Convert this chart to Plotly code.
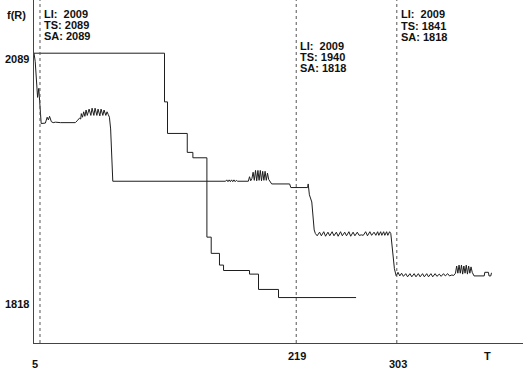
import plotly.graph_objects as go

# --- data -------------------------------------------------------------
# TS trajectory (time step T, objective f(R))
ts_t = [0, 1, 3, 4, 6, 7, 9.5, 11, 12, 13, 14.5, 16, 18, 22, 26, 30, 34.5,
        36, 38, 39, 39.5, 40.5, 41.5, 42.5, 43.5, 44.5, 46, 47.5, 48.5, 50,
        51, 52.5, 53.5, 55, 56, 57.5, 58.5, 60, 61, 62, 63, 64, 65, 65.8,
        160, 161, 162, 163, 164, 165, 166, 167, 168, 169, 170, 172, 179,
        180, 181, 182, 183, 184, 185, 186, 187, 188, 189, 190, 191, 192, 193,
        194, 195, 196, 197, 198.5, 213.5, 214.5, 228.5, 229, 230, 232, 234,
        235, 236.5, 238.5, 240, 242, 243.5, 245.5, 247, 249, 250.5, 252.5,
        254, 256, 257.5, 259.5, 261, 263, 264.5, 266.5, 268, 270, 271.5,
        273.5, 275, 277, 278.5, 280.5, 282, 284, 285.5, 287, 288, 289.5,
        290.5, 292, 293, 294.5, 295.5, 297, 298, 299.5, 301, 302.5,
        304, 305.5, 307, 308.5, 310.5, 312, 314, 315.5, 317.5, 319, 321,
        322.5, 324.5, 326, 328, 329.5, 331.5, 333, 335, 336.5, 338.5, 340,
        342, 343.5, 345.5, 347, 349, 350.5, 352,
        353, 354, 355, 356, 357, 358, 359, 360, 361, 362, 363, 364, 365,
        366, 367.5, 376, 376.5, 379.5, 380, 381.5, 382, 382.5]
ts_v = [2089, 2080, 2040, 2050, 2011, 2011, 2011.5, 2018, 2015, 2019, 2013,
        2012, 2012.5, 2012, 2012, 2012.5, 2012,
        2014, 2017, 2016, 2022, 2018, 2024, 2019, 2026, 2020, 2027, 2020,
        2028, 2020, 2028, 2020, 2027, 2019.5, 2027, 2020, 2026, 2020, 2024,
        2021, 2018, 2005, 1965, 1947,
        1947, 1948.5, 1946.5, 1948.5, 1946.5, 1948.5, 1946.5, 1948.5,
        1946.5, 1948, 1947, 1947, 1947,
        1952, 1947.5, 1950, 1957, 1948, 1959, 1947.5, 1959, 1948, 1959,
        1947.5, 1958, 1948, 1958, 1948, 1956, 1949, 1947, 1944, 1944, 1940,
        1940, 1944, 1932, 1924, 1893,
        1889, 1886.5, 1890.5, 1886.5, 1891, 1886, 1890.5, 1886.5, 1891,
        1886.5, 1890.5, 1886, 1891, 1886.5, 1890.5, 1886.5, 1891, 1886,
        1890.5, 1886.5, 1890.5, 1887, 1887.5, 1887, 1891, 1886.5, 1891,
        1887, 1890.5, 1887, 1891, 1887, 1891, 1887, 1891, 1887, 1891, 1887,
        1891, 1889, 1872, 1850, 1842,
        1846, 1842, 1845, 1841.5, 1844.5, 1841, 1844.5, 1841, 1844.5, 1841,
        1844.5, 1841, 1844.5, 1841, 1844.5, 1841, 1844.5, 1841, 1844.5,
        1841.5, 1844, 1841.5, 1844.5, 1842, 1844.5, 1842, 1843, 1842.5,
        1845,
        1853, 1845, 1854, 1845, 1854, 1844, 1853, 1845, 1854, 1844, 1853,
        1845, 1852, 1846, 1842, 1842, 1846, 1846, 1842, 1842, 1845, 1845]

# SA trajectory (piecewise constant)
sa_t = [0, 109, 111.5, 128, 132.7, 144.4, 148, 154.9, 158.3, 180, 187.5,
        204.2, 269]
sa_v = [2089, 2035, 2000, 1979, 1973, 1885, 1867, 1854, 1848, 1844, 1827,
        1818, 1818]

# snapshot times and the values reported there
mark_t = [5, 219, 303]
li_vals = [2009, 2009, 2009]
ts_vals = [2089, 1940, 1841]
sa_vals = [2089, 1818, 1818]

y_ticks = [2089, 1818]
x_ticks = [5, 219, 303]

# --- figure -----------------------------------------------------------
FONT = "Liberation Sans Narrow, Arial Narrow, Liberation Sans, sans-serif"
W, H = 523, 370
ML, MB = 34, 27
PH = H - MB

fig = go.Figure()
fig.add_trace(go.Scatter(x=ts_t, y=ts_v, mode="lines",
                         line=dict(color="#1e1e1e", width=1)))
fig.add_trace(go.Scatter(x=sa_t, y=sa_v, mode="lines",
                         line=dict(color="#1e1e1e", width=1, shape="hv")))

for t in mark_t:
    fig.add_shape(type="line", x0=t, x1=t, xref="x", y0=0, y1=1,
                  yref="paper", line=dict(color="#555", width=1, dash="dot"))


def py(ypx):
    """Pixel row (from top) -> paper y coordinate of the plot area."""
    return (PH - ypx) / PH


def px(xpx):
    """Pixel column -> paper x coordinate of the plot area."""
    return (xpx - ML) / (W - ML)


ann = []
# label blocks next to each snapshot line (centre row of first line)
block_rows = [14, 45.5, 14.5]
for t, li, ts, sa, y0 in zip(mark_t, li_vals, ts_vals, sa_vals, block_rows):
    rows = [f"LI:\u00a0 {li}", f"TS: {ts}", f"SA: {sa}"]
    for k, txt in enumerate(rows):
        ann.append(dict(x=t, xref="x", xshift=2, xanchor="left",
                        y=py(y0 + 11.2 * k), yref="paper", yanchor="middle",
                        text=txt, showarrow=False))

# y-axis value labels
for v in y_ticks:
    ann.append(dict(x=0, xref="paper", xanchor="right", xshift=-3,
                    y=v, yref="y", yanchor="middle", yshift=-6,
                    text=str(v), showarrow=False))

# x-axis labels, staggered rows
x_rows = [364, 356, 364]
x_shift = [-4.5, 0.5, 1]
for t, r, s in zip(x_ticks, x_rows, x_shift):
    ann.append(dict(x=t, xref="x", xanchor="center", xshift=s,
                    y=py(r), yref="paper", yanchor="middle",
                    text=str(t), showarrow=False))

# axis titles
ann.append(dict(x=px(487.7), xref="paper", xanchor="center",
                y=py(356), yref="paper", yanchor="middle",
                text="T", showarrow=False))
ann.append(dict(x=px(16), xref="paper", xanchor="center",
                y=py(15), yref="paper", yanchor="middle",
                text="f(R)", showarrow=False))

fig.update_layout(
    width=W, height=H,
    margin=dict(l=ML, r=0, t=0, b=MB, pad=0),
    paper_bgcolor="white", plot_bgcolor="white",
    showlegend=False,
    font=dict(family=FONT, size=11, color="#111"),
    annotations=[dict(a, font=dict(family=FONT, size=11, color="#111",
                                   weight="bold")) for a in ann],
    xaxis=dict(range=[0, 408.4], showgrid=False, zeroline=False,
               showticklabels=False, ticks="", showline=True,
               linecolor="#444", linewidth=1),
    yaxis=dict(range=[1767.6, 2148], showgrid=False, zeroline=False,
               showticklabels=False, ticks="", showline=True,
               linecolor="#444", linewidth=1),
)

fig.write_html("out.html")
